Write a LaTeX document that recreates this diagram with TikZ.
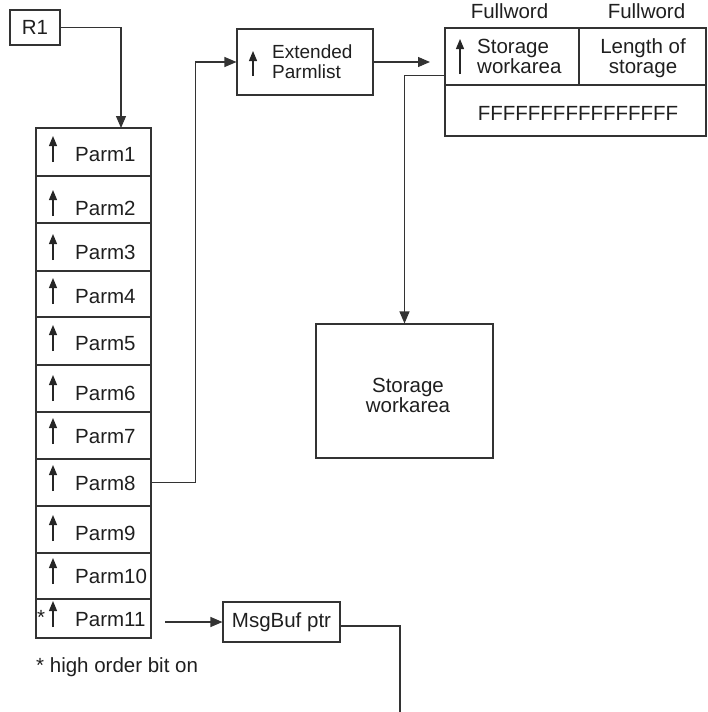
\documentclass[tikz,border=0pt]{standalone}
\usepackage{fontspec}
\setmainfont{Liberation Sans}
\usetikzlibrary{arrows.meta,calc}
\begin{document}
\begin{tikzpicture}[x=1pt,y=-1pt,
  every node/.style={text=black!88},
  box/.style={draw=black!80,line width=1.1pt,inner sep=0pt,minimum width=#1},
  lbl/.style={inner sep=0pt,anchor=base west,font=\fontsize{20.5}{20}\selectfont},
  clbl/.style={inner sep=0pt,anchor=base,align=center,font=\fontsize{20.5}{20}\selectfont},
  conn/.style={draw=black!80,line width=1.1pt},
  arr/.style={conn,-{Triangle[length=12pt,width=10pt]}},
  uparr/.style={draw=black!85,line width=1.2pt,-{Triangle[length=10pt,width=8pt]}}]
\useasboundingbox (0,0) rectangle (707,712);

% R1
\node[box=50pt,minimum height=35pt,font=\fontsize{20.5}{20}\selectfont] (r1) at (35,27.5) {R1};

% Parm list
\foreach \i/\t/\b/\bl in {1/128/176/161,2/176/223/215,3/223/271/259,4/271/317/303,5/317/365/350,6/365/412/400,7/412/459/443,8/459/506/490,9/506/553/540,10/553/599/583,11/599/638/626}{
  \node[box=115pt,minimum height={\b-\t}] (p\i) at (93.5,{(\t+\b)/2}) {};
  \draw[uparr] (53,\bl+1) -- (53,\bl-25);
  \node[lbl] (pl\i) at (75,\bl) {Parm\i};
}
\node[lbl] (star) at (37,624) {*};

\coordinate (p1in) at (121,128);
\draw[arr] (r1.east) -| (p1in);

% Extended Parmlist
\node[box=136pt,minimum height=66pt] (ext) at (305,62) {};
\draw[uparr] (253,76) -- (253,51);
\node[clbl,anchor=base west,align=left,font=\fontsize{19}{20}\selectfont] (extl) at (272,78) {Extended\\Parmlist};

\draw[arr] (p8.east) -- ++(44,0) |- (ext.west);

% Table
\node[box=134pt,minimum height=57pt] (c1) at (512,56.5) {};
\node[box=127pt,minimum height=57pt] (c2) at (642.5,56.5) {};
\node[box=261pt,minimum height=51pt] (c3) at (575.5,110.5) {};
\draw[uparr] (460,74) -- (460,39);
\node[clbl,anchor=base west,align=left] (c1l) at (477,73) {Storage\\workarea};
\node[clbl] (c2l) at (643,73) {Length of\\storage};
\node[clbl] (c3l) at (578,120) {FFFFFFFFFFFFFFFF};
\node[clbl] (fw1) at (509.5,18) {Fullword};
\node[clbl] (fw2) at (646.5,18) {Fullword};

\coordinate (tin) at (430,62);
\draw[arr] (ext.east) -- (tin);

% Storage workarea
\node[box=177pt,minimum height=134pt] (sw) at (404.5,391) {};
\node[clbl] (swl) at (408,412) {Storage\\workarea};
\draw[arr] ($(c1.south west)+(0,-10)$) -| (sw.north);

% MsgBuf
\node[box=117pt,minimum height=40pt,font=\fontsize{20.5}{20}\selectfont] (msg) at (281.5,622) {MsgBuf ptr};
\coordinate (p11out) at (165,622);
\draw[arr] (p11out) -- (msg.west);
\coordinate (mend) at (400,712);
\draw[conn] ($(msg.east)+(0,4)$) -| (mend);

\node[lbl] (note) at (36,672) {* high order bit on};
\end{tikzpicture}
\end{document}
